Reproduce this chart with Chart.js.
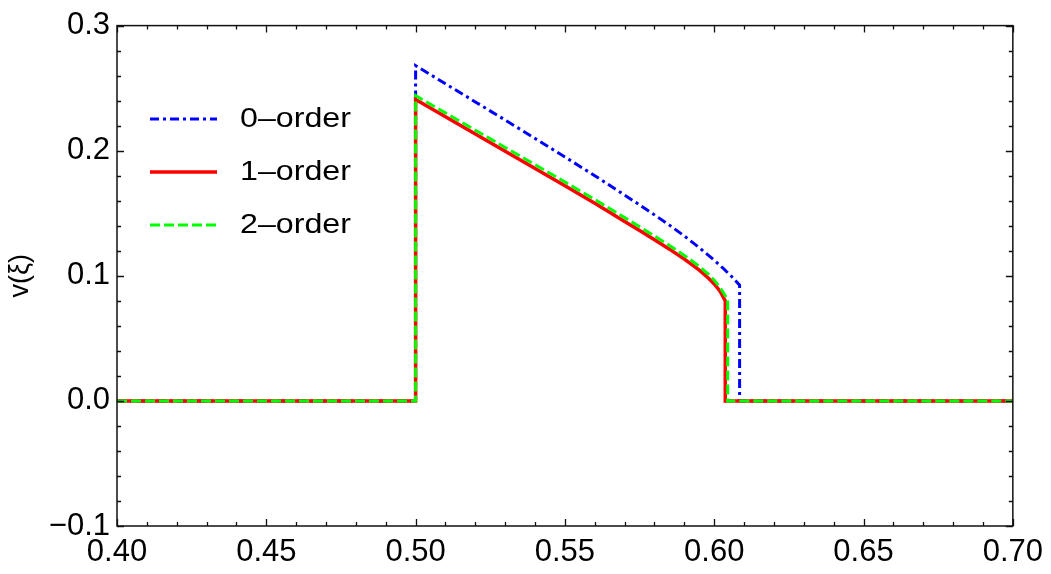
<!DOCTYPE html>
<html>
<head>
<meta charset="utf-8">
<script src="https://cdn.jsdelivr.net/npm/chart.js@4/dist/chart.umd.min.js"></script>
<style>
  body { margin: 0; background: #fff; }
  #wrap { width: 1051px; height: 574px; }
</style>
</head>
<body>
<div id="wrap"><canvas id="canvas1" width="1051" height="574"></canvas></div>
<script>
// values
var xi0 = [0.40, 0.50, 0.50, 0.51, 0.52, 0.53, 0.54, 0.55, 0.56, 0.57, 0.575, 0.58, 0.585, 0.59, 0.595, 0.60, 0.603, 0.606, 0.6085, 0.6085, 0.70];
var v0  = [0, 0, 0.268, 0.2535, 0.239, 0.2245, 0.2098, 0.195, 0.180, 0.1645, 0.1567, 0.1487, 0.1405, 0.1318, 0.1225, 0.1125, 0.106, 0.099, 0.0925, 0, 0];

var xi1 = [0.40, 0.50, 0.50, 0.51, 0.52, 0.53, 0.54, 0.55, 0.56, 0.57, 0.575, 0.58, 0.585, 0.59, 0.595, 0.598, 0.60, 0.602, 0.6037, 0.6037, 0.70];
var v1  = [0, 0, 0.241, 0.2272, 0.2134, 0.1996, 0.1858, 0.172, 0.158, 0.1435, 0.1362, 0.1288, 0.1213, 0.1133, 0.1045, 0.0983, 0.0935, 0.0875, 0.080, 0, 0];

var xi2 = [0.40, 0.50, 0.50, 0.51, 0.52, 0.53, 0.54, 0.55, 0.56, 0.57, 0.575, 0.58, 0.585, 0.59, 0.595, 0.598, 0.60, 0.602, 0.6045, 0.6045, 0.70];
var v2  = [0, 0, 0.244, 0.2302, 0.2164, 0.2026, 0.1888, 0.175, 0.161, 0.1465, 0.1392, 0.1318, 0.1243, 0.1163, 0.1075, 0.1013, 0.0965, 0.0905, 0.081, 0, 0];

var labels = ["0\u2013order", "1\u2013order", "2\u2013order"];
var colors = ["#0000ff", "#ff0000", "#00ff00"];

function pts(xs, ys) {
    return xs.map(function(x, i){ return {x: x, y: ys[i]}; });
}

var FONT = "'Liberation Sans', Arial, sans-serif";

// frame with inward ticks on all four sides
var frameTicks = {
    id: 'frameTicks',
    afterDraw: function(chart) {
        var ctx = chart.ctx, a = chart.chartArea;
        var xs = chart.scales.x, ys = chart.scales.y;
        ctx.save();
        ctx.strokeStyle = '#111';
        ctx.lineWidth = 1.5;
        ctx.strokeRect(a.left, a.top, a.right - a.left, a.bottom - a.top);
        ctx.lineWidth = 1.3;
        ctx.beginPath();
        for (var i = 0; i <= 30; i++) {
            var px = Math.round(xs.getPixelForValue(0.40 + i * 0.01)) + 0.5;
            var len = (i % 5 === 0) ? 7 : 4;
            ctx.moveTo(px, a.bottom); ctx.lineTo(px, a.bottom - len);
            ctx.moveTo(px, a.top); ctx.lineTo(px, a.top + len);
        }
        for (var j = 0; j <= 20; j++) {
            var py = Math.round(ys.getPixelForValue(-0.1 + j * 0.02)) + 0.5;
            var l2 = (j % 5 === 0) ? 7 : 4;
            ctx.moveTo(a.left, py); ctx.lineTo(a.left + l2, py);
            ctx.moveTo(a.right, py); ctx.lineTo(a.right - l2, py);
        }
        ctx.stroke();
        ctx.restore();
    }
};

// legend inside the plot, top left
var innerLegend = {
    id: 'innerLegend',
    afterDraw: function(chart) {
        var ctx = chart.ctx;
        var rows = [119, 172, 225];
        ctx.save();
        chart.data.datasets.forEach(function(ds, i) {
            ctx.beginPath();
            ctx.strokeStyle = ds.borderColor;
            ctx.lineWidth = ds.borderWidth;
            ctx.setLineDash(ds.borderDash || []);
            ctx.moveTo(150, rows[i]);
            ctx.lineTo(217, rows[i]);
            ctx.stroke();
            ctx.setLineDash([]);
            ctx.save();
            ctx.translate(240, rows[i]);
            ctx.scale(1.15, 1);
            ctx.fillStyle = '#000';
            ctx.font = '28px ' + FONT;
            ctx.textBaseline = 'middle';
            ctx.fillText(ds.label, 0, 0);
            ctx.restore();
        });
        ctx.restore();
    }
};

new Chart(document.getElementById('canvas1'), {
    type: 'scatter',
    data: {
        datasets: [{
            label: labels[0],
            data: pts(xi0, v0),
            borderColor: colors[0],
            borderWidth: 3,
            borderDash: [9, 4, 3, 4],
            order: 3
        }, {
            label: labels[1],
            data: pts(xi1, v1),
            borderColor: colors[1],
            borderWidth: 3.5,
            order: 2
        }, {
            label: labels[2],
            data: pts(xi2, v2),
            borderColor: colors[2],
            borderWidth: 3,
            borderDash: [10, 4],
            order: 1
        }]
    },
    options: {
        responsive: false,
        animation: false,
        showLine: true,
        elements: { point: { radius: 0 }, line: { tension: 0, fill: false } },
        layout: { padding: { top: 22, right: 37, left: 0, bottom: 0 } },
        plugins: { legend: { display: false }, tooltip: { enabled: false } },
        scales: {
            x: {
                type: 'linear',
                min: 0.40, max: 0.70,
                grid: { display: false, drawTicks: false },
                border: { display: false },
                ticks: {
                    stepSize: 0.05,
                    padding: 8,
                    color: '#000',
                    font: { family: FONT, size: 31 },
                    callback: function(v){ return v.toFixed(2); }
                },
                afterFit: function(s){ s.height = 48; }
            },
            y: {
                type: 'linear',
                min: -0.1, max: 0.3,
                grid: { display: false, drawTicks: false },
                border: { display: false },
                title: {
                    display: true,
                    text: 'v(\u03be)',
                    color: '#000',
                    font: { family: FONT, size: 27 },
                    padding: { top: 4, bottom: 4 }
                },
                ticks: {
                    stepSize: 0.1,
                    padding: 7,
                    color: '#000',
                    font: { family: FONT, size: 31 },
                    callback: function(v){ return v.toFixed(1).replace('-', '\u2212'); }
                },
                afterFit: function(s){ s.width = 117; }
            }
        }
    },
    plugins: [frameTicks, innerLegend]
});
</script>
</body>
</html>
